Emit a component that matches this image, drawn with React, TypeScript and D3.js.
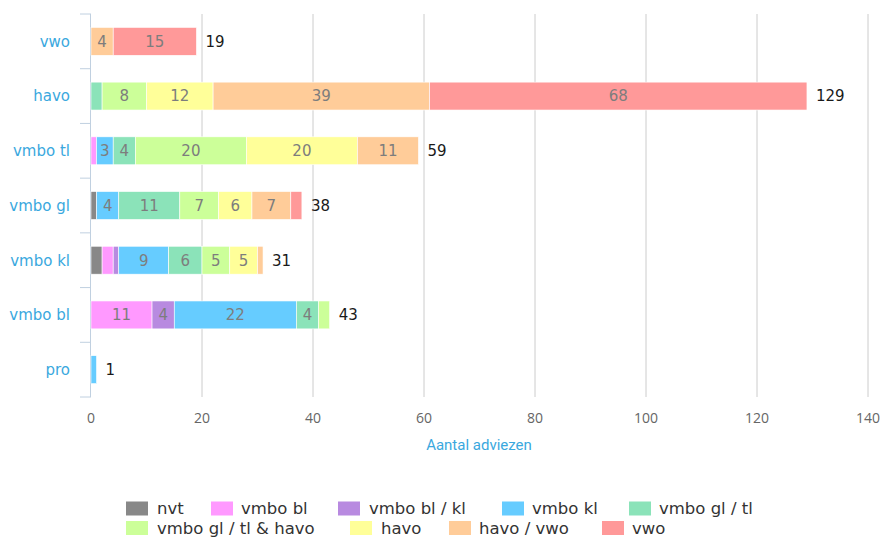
import React from "react";
import * as d3 from "d3";

const categories = ["vwo", "havo", "vmbo tl", "vmbo gl", "vmbo kl", "vmbo bl", "pro"];
const seriesNames = ["nvt", "vmbo bl", "vmbo bl / kl", "vmbo kl", "vmbo gl / tl", "vmbo gl / tl & havo", "havo", "havo / vwo", "vwo"];
const seriesColors = ["#888888", "#ff99ff", "#b88ae0", "#66ccff", "#8be3b9", "#ccff99", "#ffff99", "#ffcc99", "#ff9999"];
// values per series, in category order
const nvt = [0, 0, 0, 1, 2, 0, 0];
const vmboBl = [0, 0, 1, 0, 2, 11, 0];
const vmboBlKl = [0, 0, 0, 0, 1, 4, 0];
const vmboKl = [0, 0, 3, 4, 9, 22, 1];
const vmboGlTl = [0, 2, 4, 11, 6, 4, 0];
const vmboGlTlHavo = [0, 8, 20, 7, 5, 2, 0];
const havo = [0, 12, 20, 6, 5, 0, 0];
const havoVwo = [4, 39, 11, 7, 1, 0, 0];
const vwo = [15, 68, 0, 2, 0, 0, 0];
const xTicks = [0, 20, 40, 60, 80, 100, 120, 140];

const seriesValues = [nvt, vmboBl, vmboBlKl, vmboKl, vmboGlTl, vmboGlTlHavo, havo, havoVwo, vwo];

const W = 881, H = 539;
const plot = { left: 91, right: 868, top: 14, bottom: 397 };
const wide = "'DejaVu Sans', Verdana, sans-serif";
const narrow = "'Open Sans', sans-serif";

export default function App() {
  const x = d3.scaleLinear().domain([0, 140]).range([plot.left, plot.right]);
  const y = d3.scaleBand().domain(categories).range([plot.top, plot.bottom]).paddingInner(0.49).paddingOuter(0.245);
  const band = d3.scaleBand().domain(categories).range([plot.top, plot.bottom]);

  const table = categories.map((c, i) => {
    const row: any = { cat: c };
    seriesNames.forEach((s, j) => (row[s] = seriesValues[j][i]));
    return row;
  });
  const stacked = d3.stack().keys(seriesNames)(table);
  const totals = categories.map((_, i) => d3.sum(seriesValues, (s) => s[i]));

  const legendRow1 = [
    { i: 0, sx: 126, tx: 157 },
    { i: 1, sx: 211, tx: 241 },
    { i: 2, sx: 338, tx: 369 },
    { i: 3, sx: 502, tx: 532 },
    { i: 4, sx: 629, tx: 659 },
  ];
  const legendRow2 = [
    { i: 5, sx: 126, tx: 157 },
    { i: 6, sx: 350, tx: 381 },
    { i: 7, sx: 449, tx: 479 },
    { i: 8, sx: 602, tx: 632 },
  ];

  return (
    <svg width={W} height={H} style={{ position: "absolute", left: 0, top: 0, background: "#fff" }} fontFamily={wide}>
      {/* grid */}
      {xTicks.filter((t) => t > 0).map((t) => (
        <line key={t} x1={x(t)} x2={x(t)} y1={plot.top} y2={plot.bottom} stroke="#cccccc" strokeWidth={1} />
      ))}
      {/* left axis */}
      <line x1={plot.left - 0.5} x2={plot.left - 0.5} y1={plot.top} y2={plot.bottom} stroke="#c0d0e0" />
      {categories.map((c) => (
        <line key={c} x1={plot.left - 11} x2={plot.left} y1={band(c)! + band.bandwidth()} y2={band(c)! + band.bandwidth()} stroke="#c0d0e0" />
      ))}
      <line x1={plot.left - 11} x2={plot.left} y1={plot.top} y2={plot.top} stroke="#c0d0e0" />
      {/* bars */}
      {stacked.map((s, j) => (
        <g key={s.key} fill={seriesColors[j]}>
          {s.map((d, i) =>
            d[1] - d[0] > 0 ? (
              <rect key={i} x={x(d[0])} y={y(categories[i])} width={x(d[1]) - x(d[0])} height={y.bandwidth()} stroke="#ffffff" strokeWidth={0.6} />
            ) : null
          )}
        </g>
      ))}
      {/* segment labels */}
      {stacked.map((s, j) =>
        s.map((d, i) =>
          d[1] - d[0] >= 3 ? (
            <text key={s.key + i} x={(x(d[0]) + x(d[1])) / 2} y={y(categories[i])! + y.bandwidth() / 2} dy="0.36em" textAnchor="middle" fontSize={15} fill="#7d7d7d">
              {d[1] - d[0]}
            </text>
          ) : null
        )
      )}
      {/* totals */}
      {categories.map((c, i) => (
        <text key={c} x={x(totals[i]) + 9} y={y(c)! + y.bandwidth() / 2} dy="0.36em" fontSize={15} fill="#1a1a1a">
          {totals[i]}
        </text>
      ))}
      {/* category labels */}
      {categories.map((c) => (
        <text key={c} x={70} y={band(c)! + band.bandwidth() / 2} dy="0.36em" textAnchor="end" fontSize={15} fill="#3aa8de">
          {c}
        </text>
      ))}
      {/* x tick labels */}
      {xTicks.map((t) => (
        <text key={t} x={x(t)} y={418} dy="0.35em" textAnchor="middle" fontSize={14} fill="#666" fontFamily={narrow}>
          {t}
        </text>
      ))}
      <text x={479} y={445} dy="0.35em" textAnchor="middle" fontSize={15} fill="#3aa8de" fontFamily="Roboto, sans-serif">
        Aantal adviezen
      </text>
      {/* legend */}
      {[...legendRow1.map((l) => ({ ...l, yy: 501.5 })), ...legendRow2.map((l) => ({ ...l, yy: 521 }))].map((l) => (
        <g key={l.i}>
          <rect x={l.sx} y={l.yy} width={22} height={14} fill={seriesColors[l.i]} />
          <text x={l.tx} y={l.yy + 7} dy="0.36em" fontSize={16.5} fill="#333">
            {seriesNames[l.i]}
          </text>
        </g>
      ))}
    </svg>
  );
}
